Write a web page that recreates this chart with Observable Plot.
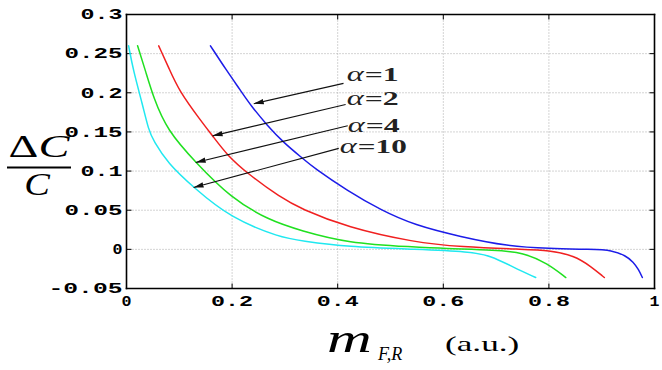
<!DOCTYPE html>
<html>
<head>
<meta charset="utf-8">
<script src="https://cdn.jsdelivr.net/npm/d3@7"></script>
<script src="https://cdn.jsdelivr.net/npm/@observablehq/plot@0.6"></script>
<style>
  body { margin: 0; background: #fff; }
  #chart svg { display: block; }
</style>
</head>
<body>
<div id="chart"></div>
<script>
// Axis domains, ticks and their printed labels
const xDomain = [0, 1];
const yDomain = [-0.05, 0.3];
const xTicks = [0, 0.2, 0.4, 0.6, 0.8, 1];
const xTickLabels = ["0", "0.2", "0.4", "0.6", "0.8", "1"];
const yTicks = [-0.05, 0, 0.05, 0.1, 0.15, 0.2, 0.25, 0.3];
const yTickLabels = ["-0.05", "0", "0.05", "0.1", "0.15", "0.2", "0.25", "0.3"];

// Series: relative capacitance change vs. m_{F,R} for several alpha values
const alphas = [1, 2, 4, 10];
const seriesColors = ["#1c1ce8", "#f02020", "#20e020", "#20e8f0"];

const mA1 = [0.159, 0.19, 0.216, 0.235, 0.267, 0.298, 0.334, 0.355, 0.418, 0.482, 0.545, 0.633, 0.722, 0.80, 0.88, 0.92, 0.945, 0.96, 0.97, 0.977];
const dcA1 = [0.260, 0.228, 0.203, 0.184, 0.158, 0.136, 0.116, 0.104, 0.075, 0.050, 0.031, 0.016, 0.004, 0.001, 0.0, -0.001, -0.008, -0.016, -0.026, -0.036];

const mA2 = [0.061, 0.08, 0.099, 0.14, 0.163, 0.191, 0.229, 0.292, 0.330, 0.418, 0.545, 0.633, 0.75, 0.80, 0.848, 0.88, 0.905];
const dcA2 = [0.260, 0.232, 0.203, 0.165, 0.145, 0.120, 0.097, 0.066, 0.052, 0.028, 0.009, 0.003, 0.0, -0.001, -0.008, -0.022, -0.036];

const mA4 = [0.021, 0.036, 0.051, 0.077, 0.131, 0.197, 0.270, 0.330, 0.418, 0.545, 0.60, 0.70, 0.752, 0.797, 0.832];
const dcA4 = [0.260, 0.228, 0.194, 0.152, 0.111, 0.066, 0.037, 0.024, 0.008, 0.003, 0.001, -0.001, -0.004, -0.018, -0.036];

const mA10 = [0.004, 0.013, 0.030, 0.042, 0.051, 0.078, 0.127, 0.197, 0.292, 0.330, 0.418, 0.55, 0.65, 0.69, 0.733, 0.775];
const dcA10 = [0.260, 0.228, 0.186, 0.152, 0.139, 0.110, 0.079, 0.040, 0.015, 0.011, 0.003, 0.0, -0.003, -0.008, -0.023, -0.036];

// Annotation labels and their arrows (tail at the label, head on the curve)
const labelNames = ["=1", "=2", "=4", "=10"];
const labelX = [0.417, 0.417, 0.419, 0.404];
const labelY = [0.2156, 0.184, 0.150, 0.123];
const arrowFromX = [0.411, 0.415, 0.419, 0.402];
const arrowFromY = [0.212, 0.185, 0.158, 0.129];
const arrowToX = [0.241, 0.163, 0.131, 0.127];
const arrowToY = [0.186, 0.145, 0.111, 0.079];

const seriesM = [mA1, mA2, mA4, mA10];
const seriesDC = [dcA1, dcA2, dcA4, dcA10];
const rows = alphas.flatMap((a, k) => seriesM[k].map((m, i) => ({alpha: a, m, dc: seriesDC[k][i]})));
const labels = alphas.map((a, i) => ({alpha: a, name: labelNames[i], x: labelX[i], y: labelY[i]}));
const arrows = alphas.map((a, i) => ({x1: arrowFromX[i], y1: arrowFromY[i], x2: arrowToX[i], y2: arrowToY[i]}));

const W = 662, H = 370;
const mL = 126, mR = 8, mT = 14, mB = 82;
const frameW = W - mL - mR, frameH = H - mT - mB;
const tickLen = 5;
const tickFont = "'Liberation Mono', 'DejaVu Sans Mono', monospace";
const serif = "'Liberation Serif', 'DejaVu Serif', serif";

// Grid, box and inward tick segments, expressed in data units
const [x0, x1] = xDomain, [y0, y1] = yDomain;
const tdx = (x1 - x0) * tickLen / frameW;
const tdy = (y1 - y0) * tickLen / frameH;
const gridSegs = [
  ...xTicks.map(t => ({x1: t, x2: t, y1: y0, y2: y1})),
  ...yTicks.map(t => ({x1: x0, x2: x1, y1: t, y2: t}))
];
const tickSegs = [
  ...xTicks.map(t => ({x1: t, x2: t, y1: y0, y2: y0 + tdy})),
  ...xTicks.map(t => ({x1: t, x2: t, y1: y1, y2: y1 - tdy})),
  ...yTicks.map(t => ({x1: x0, x2: x0 + tdx, y1: t, y2: t})),
  ...yTicks.map(t => ({x1: x1, x2: x1 - tdx, y1: t, y2: t}))
];
const boxSegs = [
  {x1: x0, x2: x1, y1: y0, y2: y0}, {x1: x0, x2: x1, y1: y1, y2: y1},
  {x1: x0, x2: x0, y1: y0, y2: y1}, {x1: x1, x2: x1, y1: y0, y2: y1}
];

const plot = Plot.plot({
  width: W,
  height: H,
  marginLeft: mL, marginRight: mR, marginTop: mT, marginBottom: mB,
  x: {domain: xDomain},
  y: {domain: yDomain},
  color: {type: "ordinal", domain: alphas, range: seriesColors},
  marks: [
    Plot.link(gridSegs, {x1: "x1", x2: "x2", y1: "y1", y2: "y2", stroke: "#a8a8a8", strokeWidth: 1, strokeDasharray: "1,2"}),
    Plot.link(tickSegs, {x1: "x1", x2: "x2", y1: "y1", y2: "y2", stroke: "#000", strokeWidth: 1}),
    Plot.axisX(xTicks, {
      anchor: "bottom", tickSize: 0, tickPadding: 7,
      tickFormat: d => xTickLabels[xTicks.indexOf(d)],
      fontFamily: tickFont, fontWeight: "bold", fontSize: 15
    }),
    Plot.axisY(yTicks, {
      anchor: "left", tickSize: 0, tickPadding: 4,
      tickFormat: d => yTickLabels[yTicks.indexOf(d)],
      fontFamily: tickFont, fontWeight: "bold", fontSize: 15
    }),
    Plot.line(rows, {x: "m", y: "dc", z: "alpha", stroke: "alpha", strokeWidth: 1.5, curve: "basis"}),
    Plot.link(arrows, {x1: "x1", y1: "y1", x2: "x2", y2: "y2", stroke: "#111", strokeWidth: 1.1, markerEnd: "arrow"}),
    Plot.text(labels, {x: "x", y: "y", text: () => "\u03b1", textAnchor: "start", lineAnchor: "bottom",
      fontFamily: serif, fontStyle: "italic", fontSize: 20, fill: "#222"}),
    Plot.text(labels, {x: "x", y: "y", text: "name", textAnchor: "start", lineAnchor: "bottom", dx: 18,
      fontFamily: serif, fontWeight: "bold", fontSize: 19, fill: "#222"}),
    Plot.link(boxSegs, {x1: "x1", x2: "x2", y1: "y1", y2: "y2", stroke: "#000", strokeWidth: 1.6, strokeLinecap: "square"})
  ]
});

const svg = d3.select(plot);

// wide, stretched tick lettering
const stretch = (sel) => sel.each(function () {
  const n = this.textContent.length;
  d3.select(this).attr("textLength", 16 * n - 6).attr("lengthAdjust", "spacingAndGlyphs");
});
stretch(svg.selectAll('g[aria-label="x-axis tick label"] text'));
stretch(svg.selectAll('g[aria-label="y-axis tick label"] text'));

// wide annotation lettering
svg.selectAll('g[aria-label="text"]').each(function (_, gi) {
  d3.select(this).selectAll("text").each(function () {
    const n = this.textContent.length;
    d3.select(this).attr("lengthAdjust", "spacingAndGlyphs")
      .attr("textLength", gi === 0 ? 17 : 15 * n + 4);
  });
});

// filled arrowheads
svg.selectAll("marker")
  .attr("viewBox", "-10 -5 10 10")
  .attr("markerUnits", "userSpaceOnUse")
  .attr("markerWidth", 10).attr("markerHeight", 10)
  .attr("fill", "#111").attr("stroke", "none")
  .select("path").attr("d", "M-10,-2.7L0,0L-10,2.7Z");

// horizontally widened title text
const wideText = (g, x, y, sx, size, anchor) =>
  g.append("text").attr("transform", `translate(${x},${y}) scale(${sx},1)`)
    .attr("font-size", size).attr("text-anchor", anchor);

// y-axis title: ΔC / C
const yt = svg.append("g").attr("font-family", serif).attr("fill", "#000");
wideText(yt, 39, 157, 1.45, 32, "middle")
  .call(t => { t.append("tspan").text("\u0394"); t.append("tspan").attr("font-style", "italic").text("C"); });
yt.append("line").attr("x1", 7).attr("x2", 71).attr("y1", 167.5).attr("y2", 167.5).attr("stroke", "#000").attr("stroke-width", 2);
wideText(yt, 37, 195, 1.2, 32, "middle").attr("font-style", "italic").text("C");

// x-axis title: m_{F,R} (a.u.)
const xt = svg.append("g").attr("font-family", serif).attr("fill", "#000");
wideText(xt, 327, 352, 1.55, 40, "start").attr("font-style", "italic").text("m");
wideText(xt, 378, 360, 0.95, 19, "start").attr("font-style", "italic").text("F,R");
wideText(xt, 445, 351, 1.6, 22, "start").text("(a.u.)");

document.getElementById("chart").append(plot);
</script>
</body>
</html>
